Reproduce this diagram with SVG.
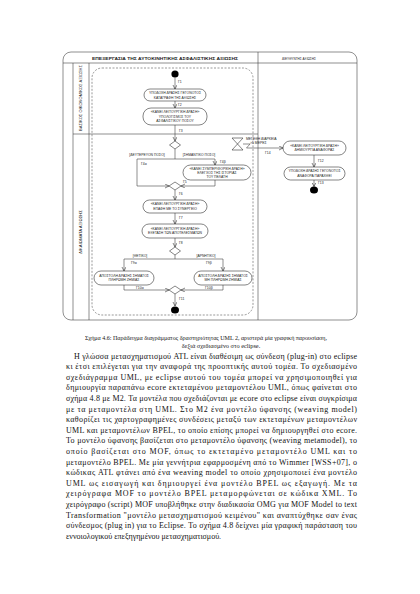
<svg xmlns="http://www.w3.org/2000/svg" width="420" height="594" viewBox="0 0 420 594">
<style>
.ln{fill:none;stroke:#444;stroke-width:0.6}
.act{fill:#fff;stroke:#333;stroke-width:0.6}
.t{font-family:"Liberation Sans",Arial,sans-serif;font-size:3.4px;fill:#222;text-anchor:middle}
.lb{font-family:"Liberation Sans",Arial,sans-serif;font-size:3.4px;fill:#222}
.hd{font-family:"Liberation Sans",Arial,sans-serif;font-size:4.2px;font-weight:bold;fill:#222;text-anchor:middle}
.cap{font-family:"Liberation Serif","Times New Roman",serif;font-size:6.3px;fill:#111;text-anchor:middle}
.p{font-family:"Liberation Serif","Times New Roman",serif;font-size:8px;fill:#111}
.blk{fill:#000}
</style>
<defs>
<marker id="arr" markerUnits="userSpaceOnUse" markerWidth="5" markerHeight="5" refX="4" refY="2" orient="auto">
<path d="M0,0 L4,2 L0,4" fill="none" stroke="#333" stroke-width="0.6"/>
</marker>
</defs>
<rect width="420" height="594" fill="#fff"/>

<g id="frame">
<rect x="63" y="52" width="294" height="268" rx="8" class="ln"/>
<line x1="63" y1="63" x2="357" y2="63" class="ln"/>
<line x1="258" y1="52" x2="258" y2="320" class="ln"/>
<line x1="73" y1="63" x2="73" y2="320" class="ln"/>
<line x1="89" y1="63" x2="89" y2="320" class="ln"/>
<line x1="73" y1="134" x2="258" y2="134" class="ln"/>
<text x="165" y="59.5" class="hd" textLength="146" lengthAdjust="spacingAndGlyphs">ΕΠΕΞΕΡΓΑΣΙΑ ΤΗΣ ΑΥΤΟΚΙΝΗΤΙΚΗΣ ΑΣΦΑΛΙΣΤΙΚΗΣ ΑΞΙΩΣΗΣ</text>
<text x="299" y="59.5" class="hd" style="font-weight:normal" textLength="34" lengthAdjust="spacingAndGlyphs">ΔΙΕΥΘΥΝΤΗΣ ΑΞΙΩΣΗΣ</text>
<text transform="translate(82,98) rotate(-90)" class="t" textLength="66" lengthAdjust="spacingAndGlyphs">ΒΑΣΙΚΟΣ ΟΙΚΟΝΟΜΙΚΟΣ ΑΞΙΩΣΗΣ</text>
<text transform="translate(82,232) rotate(-90)" class="t" textLength="44" lengthAdjust="spacingAndGlyphs">ΔΙΚΑΙΩΜΑΤΑ ΑΞΙΩΣΗΣ</text>
</g>

<g id="region">
<rect x="92" y="68" width="161" height="247" rx="10" fill="none" stroke="#555" stroke-width="0.6" stroke-dasharray="2,1.5"/>
</g>

<g id="connectors">
<line x1="175" y1="77.5" x2="175" y2="89" class="ln" marker-end="url(#arr)"/>
<line x1="175" y1="101" x2="175" y2="108" class="ln" marker-end="url(#arr)"/>
<line x1="175" y1="125" x2="175" y2="141" class="ln" marker-end="url(#arr)"/>
<polyline points="175,149 175,159" class="ln"/>
<polyline points="137,159 215,159" class="ln"/>
<polyline points="137,159 137,186 169,186" class="ln" marker-end="url(#arr)"/>
<polyline points="215,159 215,165" class="ln" marker-end="url(#arr)"/>
<polyline points="215,180 215,186 181,186" class="ln" marker-end="url(#arr)"/>
<line x1="175" y1="190" x2="175" y2="200" class="ln" marker-end="url(#arr)"/>
<line x1="175" y1="213" x2="175" y2="224" class="ln" marker-end="url(#arr)"/>
<line x1="175" y1="238" x2="175" y2="247" class="ln" marker-end="url(#arr)"/>
<polyline points="175,255 175,259" class="ln"/>
<polyline points="124,259 223,259" class="ln"/>
<polyline points="124,259 124,271" class="ln" marker-end="url(#arr)"/>
<polyline points="223,259 223,271" class="ln" marker-end="url(#arr)"/>
<polyline points="124,285 124,290 169,290" class="ln" marker-end="url(#arr)"/>
<polyline points="223,285 223,290 181,290" class="ln" marker-end="url(#arr)"/>
<line x1="175" y1="294" x2="175" y2="306" class="ln" marker-end="url(#arr)"/>
<polyline points="243,144 250,144 246.5,148 283,148" class="ln" marker-end="url(#arr)"/>
<line x1="314" y1="155" x2="314" y2="167" class="ln" marker-end="url(#arr)"/>
<line x1="314" y1="180" x2="314" y2="186.5" class="ln" marker-end="url(#arr)"/>
<text x="178" y="83" class="lb">Γ1</text>
<text x="178" y="106" class="lb">Γ2</text>
<text x="179" y="132" class="lb">Γ3</text>
<text x="147" y="156" class="t">[ΔΕΥΤΕΡΕΥΟΝ ΠΟΣΟ]</text>
<text x="199" y="156" class="t">[ΣΗΜΑΝΤΙΚΟ ΠΟΣΟ]</text>
<text x="141" y="165" class="lb">Γ4α</text>
<text x="220" y="163" class="lb">Γ4β</text>
<text x="183" y="183" class="lb">Γ5</text>
<text x="179" y="195" class="lb">Γ6</text>
<text x="179" y="219" class="lb">Γ7</text>
<text x="179" y="243.5" class="lb">Γ8</text>
<text x="140" y="256.5" class="t">[ΘΕΤΙΚΟ]</text>
<text x="206" y="256.5" class="t">[ΑΡΝΗΤΙΚΟ]</text>
<text x="131" y="264" class="lb">Γ9α</text>
<text x="206" y="264" class="lb">Γ9β</text>
<text x="136" y="288.5" class="lb">Γ10α</text>
<text x="205" y="288.5" class="lb">Γ10β</text>
<text x="179" y="300" class="lb">Γ11</text>
<text x="246" y="139.5" class="lb">ΜΕΓΕΘΗ ΔΙΑΡΚΕΙΑ</text>
<text x="250" y="143.5" class="lb">&gt;5 ΜΕΡΕΣ</text>
<text x="265" y="153.5" class="lb">Γ14</text>
<text x="318" y="162" class="lb">Γ12</text>
<text x="318" y="184" class="lb">Γ13</text>
</g>

<g id="initial"><circle cx="175" cy="74" r="3.6" class="blk"/></g>
<g id="a1"><rect x="144" y="89" width="62" height="12" rx="6" class="act"/>
<text x="175" y="94.2" class="t">ΥΠΟΔΟΧΗ ΔΡΑΣΗΣ ΓΕΓΟΝΟΤΟΣ</text>
<text x="175" y="98.8" class="t">ΚΑΤΑΓΡΑΦΗ ΤΗΣ ΑΞΙΩΣΗΣ</text></g>
<g id="a2"><rect x="143" y="108" width="64" height="17" rx="8" class="act"/>
<text x="175" y="113" class="t">«ΚΑΝΕΙ ΛΕΙΤΟΥΡΓΙΚΗ ΔΡΑΣΗ»</text>
<text x="175" y="117.5" class="t">ΥΠΟΛΟΓΙΣΜΟΣ ΤΟΥ</text>
<text x="175" y="122" class="t">ΑΣΦΑΛΙΣΤΙΚΟΥ ΠΟΣΟΥ</text></g>
<g id="d1"><polygon points="175,141 180.5,145 175,149 169.5,145" class="act"/></g>
<g id="a3"><rect x="183" y="165" width="68" height="15" rx="7.5" class="act"/>
<text x="217" y="169.5" class="t">«ΚΑΝΕΙ ΣΥΜΠΕΡΙΦΟΡΙΚΗ ΔΡΑΣΗ»</text>
<text x="217" y="173.5" class="t">ΕΛΕΓΧΟΣ ΤΗΣ ΙΣΤΟΡΙΑΣ</text>
<text x="217" y="177.5" class="t">ΤΟΥ ΠΕΛΑΤΗ</text></g>
<g id="d2"><polygon points="175,182 181,186 175,190 169,186" class="act"/></g>
<g id="a4"><rect x="143" y="200" width="64" height="13" rx="6.5" class="act"/>
<text x="175" y="205.3" class="t">«ΚΑΝΕΙ ΛΕΙΤΟΥΡΓΙΚΗ ΔΡΑΣΗ»</text>
<text x="175" y="210" class="t">ΕΠΑΦΗ ΜΕ ΤΟ ΣΥΝΕΡΓΕΙΟ</text></g>
<g id="a5"><rect x="142" y="224" width="66" height="14" rx="7" class="act"/>
<text x="175" y="229.6" class="t">«ΚΑΝΕΙ ΛΕΙΤΟΥΡΓΙΚΗ ΔΡΑΣΗ»</text>
<text x="175" y="234.4" class="t">ΕΞΕΤΑΣΗ ΤΩΝ ΑΠΟΤΕΛΕΣΜΑΤΩΝ</text></g>
<g id="d3"><polygon points="175,247 180.5,251 175,255 169.5,251" class="act"/></g>
<g id="a6"><rect x="94" y="271" width="60" height="14" rx="7" class="act"/>
<text x="124" y="276.6" class="t">ΑΠΟΣΤΟΛΗ ΔΡΑΣΗΣ ΣΗΜΑΤΟΣ</text>
<text x="124" y="281.4" class="t">ΠΛΗΡΩΜΗ ΖΗΜΙΑΣ</text></g>
<g id="a7"><rect x="194" y="271" width="58" height="14" rx="7" class="act"/>
<text x="223" y="276.6" class="t">ΑΠΟΣΤΟΛΗ ΔΡΑΣΗΣ ΣΗΜΑΤΟΣ</text>
<text x="223" y="281.4" class="t">ΜΗ ΠΛΗΡΩΜΗ ΖΗΜΙΑΣ</text></g>
<g id="d4"><polygon points="175,286 181,290 175,294 169,290" class="act"/></g>
<g id="final1"><ellipse cx="175" cy="310" rx="4" ry="3.6" class="blk"/></g>
<g id="timer"><path d="M232,138 H243 L232,150 H243 Z" class="act"/></g>
<g id="a8"><rect x="283" y="141" width="63" height="14" rx="7" class="act"/>
<text x="314.5" y="146.6" class="t">«ΚΑΝΕΙ ΛΕΙΤΟΥΡΓΙΚΗ ΔΡΑΣΗ»</text>
<text x="314.5" y="151.4" class="t">ΔΗΜΙΟΥΡΓΙΑ ΑΝΑΦΟΡΑΣ</text></g>
<g id="a9"><rect x="284" y="167" width="61" height="13" rx="6.5" class="act"/>
<text x="314.5" y="172.3" class="t">ΥΠΟΔΟΧΗ ΔΡΑΣΗΣ ΓΕΓΟΝΟΤΟΣ</text>
<text x="314.5" y="177" class="t">ΑΝΑΦΟΡΑ ΠΑΡΑΧΘΕΙ</text></g>
<g id="final2"><ellipse cx="314" cy="190" rx="4" ry="3.6" class="blk"/></g>

<g id="caption">
<text x="206" y="340" class="cap" textLength="242" lengthAdjust="spacingAndGlyphs">Σχήμα 4.6: Παράδειγμα διαγράμματος δραστηριότητας UML 2, αριστερά μία γραφική παρουσίαση,</text>
<text x="221" y="348" class="cap">δεξιά σχεδιασμένο στο eclipse.</text>
</g>

<g id="paragraph">
<text x="74" y="358.5" class="p" textLength="283" lengthAdjust="spacing">Η γλώσσα μετασχηματισμού ATL είναι διαθέσιμη ως σύνδεση (plug-in) στο eclipse</text>
<text x="66" y="369.1" class="p" textLength="291" lengthAdjust="spacing">κι έτσι επιλέγεται για την αναφορά της προοπτικής αυτού τομέα. Το σχεδιασμένο</text>
<text x="66" y="379.7" class="p" textLength="291" lengthAdjust="spacing">σχεδιάγραμμα UML, με eclipse αυτού του τομέα μπορεί να χρησιμοποιηθεί για</text>
<text x="66" y="390.3" class="p" textLength="291" lengthAdjust="spacing">δημιουργία παραπάνω ecore εκτεταμένου μεταμοντέλου UML, όπως φαίνεται στο</text>
<text x="66" y="400.9" class="p" textLength="291" lengthAdjust="spacing">σχήμα 4.8 με M2. Τα μοντέλα που σχεδιάζονται με ecore στο eclipse είναι συγκρίσιμα</text>
<text x="66" y="411.5" class="p" textLength="291" lengthAdjust="spacing">με τα μεταμοντέλα στη UML. Στο M2 ένα μοντέλο ύφανσης (weaving model)</text>
<text x="66" y="422.1" class="p" textLength="291" lengthAdjust="spacing">καθορίζει τις χαρτογραφημένες συνδέσεις μεταξύ των εκτεταμένων μεταμοντέλων</text>
<text x="66" y="432.7" class="p" textLength="291" lengthAdjust="spacing">UML και μεταμοντέλων BPEL, το οποίο επίσης μπορεί να δημιουργηθεί στο ecore.</text>
<text x="66" y="443.3" class="p" textLength="291" lengthAdjust="spacing">Το μοντέλο ύφανσης βασίζεται στο μεταμοντέλο ύφανσης (weaving metamodel), το</text>
<text x="66" y="453.9" class="p" textLength="291" lengthAdjust="spacing">οποίο βασίζεται στο MOF, όπως το εκτεταμένο μεταμοντέλο UML και το</text>
<text x="66" y="464.5" class="p" textLength="291" lengthAdjust="spacing">μεταμοντέλο BPEL. Με μία γεννήτρια εφαρμοσμένη από το Wimmer [WSS+07], ο</text>
<text x="66" y="475.1" class="p" textLength="291" lengthAdjust="spacing">κώδικας ATL φτάνει από ένα weaving model το οποίο χρησιμοποιεί ένα μοντέλο</text>
<text x="66" y="485.7" class="p" textLength="291" lengthAdjust="spacing">UML  ως εισαγωγή και δημιουργεί ένα μοντέλο BPEL ως εξαγωγή. Με τα</text>
<text x="66" y="496.3" class="p" textLength="291" lengthAdjust="spacing">χειρόγραφα MOF το μοντέλο BPEL μεταμορφώνεται σε κώδικα XML. Το</text>
<text x="66" y="506.9" class="p" textLength="291" lengthAdjust="spacing">χειρόγραφο (script) MOF υποβλήθηκε στην διαδικασία OMG για MOF Model to text</text>
<text x="66" y="517.5" class="p" textLength="291" lengthAdjust="spacing">Transformation "μοντέλο μετασχηματισμού κειμένου" και αναπτύχθηκε σαν ένας</text>
<text x="66" y="528.1" class="p" textLength="291" lengthAdjust="spacing">σύνδεσμος (plug in) για το Eclipse. Το σχήμα 4.8 δείχνει μία γραφική παράσταση του</text>
<text x="66" y="538.7" class="p">εννοιολογικού επεξηγημένου μετασχηματισμού.</text>
</g>
</svg>
